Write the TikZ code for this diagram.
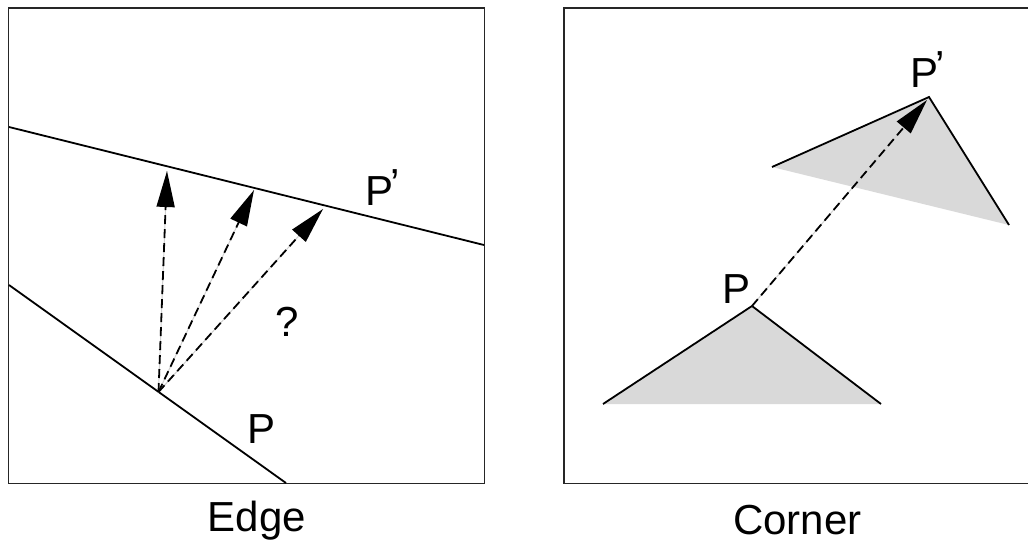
\documentclass[tikz,border=0pt]{standalone}
\usepackage{fontspec}
\setmainfont{Liberation Sans}
\usetikzlibrary{arrows.meta}
\definecolor{trifill}{RGB}{217,217,217}
\begin{document}
\begin{tikzpicture}[x=1pt,y=-1pt,
  frame/.style={line width=1.2pt, black!85},
  edgeline/.style={line width=1.8pt},
  under/.style={line width=1pt, black!18},
  dashy/.style={line width=1.8pt, dash pattern=on 9pt off 5pt},
  head/.style={-{Triangle[length=36pt,width=18pt]}},
  lbl/.style={inner sep=0pt, anchor=base west, font=\fontsize{42}{50}\selectfont}]
\useasboundingbox (0,0) rectangle (1028,542);
% frames
\draw[frame] (8.5,8) rectangle (484.5,483.5);
\draw[frame] (1034,8) -- (564,8) -- (564,483.5) -- (1034,483.5);
% ---- Edge panel ----
\coordinate (tl) at (9,127);
\coordinate (tr) at (484,245);
\coordinate (la) at (9,285);
\coordinate (lb) at (286,483);
\coordinate (o) at (158.5,392);
\coordinate (t1) at (167,171);
\coordinate (t2) at (254,190);
\coordinate (t3) at (323,209);
\draw[edgeline] (tl) -- (tr);
\draw[edgeline] (la) -- (lb);
\foreach \t in {t1,t2,t3}{
  \draw[under] (o) -- (\t);
  \draw[dashy,head] (o) -- (\t);
}
\node[lbl] (pe) at (247.5,443) {P};
\node[lbl] (ppe) at (365,205) {P\kern-3pt\raisebox{7pt}{’}};
\node[lbl] (q) at (275.5,336.5) {?};
\node[lbl] (edge) at (207.5,531.5) {Edge};
% ---- Corner panel ----
\coordinate (a1) at (772,167);
\coordinate (a2) at (929,97);
\coordinate (a3) at (1009,225);
\coordinate (b1) at (603,404);
\coordinate (b2) at (752,306);
\coordinate (b3) at (881,404);
\coordinate (ct) at (927,100);
\fill[trifill] (a1) -- (a2) -- (a3) -- cycle;
\draw[edgeline] (a1) -- (a2) -- (a3);
\fill[trifill] (b1) -- (b2) -- (b3) -- cycle;
\draw[edgeline] (b1) -- (b2) -- (b3);
\draw[under] (b2) -- (ct);
\draw[dashy,head] (b2) -- (ct);
\node[lbl] (pc) at (722,303) {P};
\node[lbl] (ppc) at (910,87) {P\kern-3pt\raisebox{7pt}{’}};
\node[lbl] (corner) at (733,534) {Corner};
\end{tikzpicture}
\end{document}
